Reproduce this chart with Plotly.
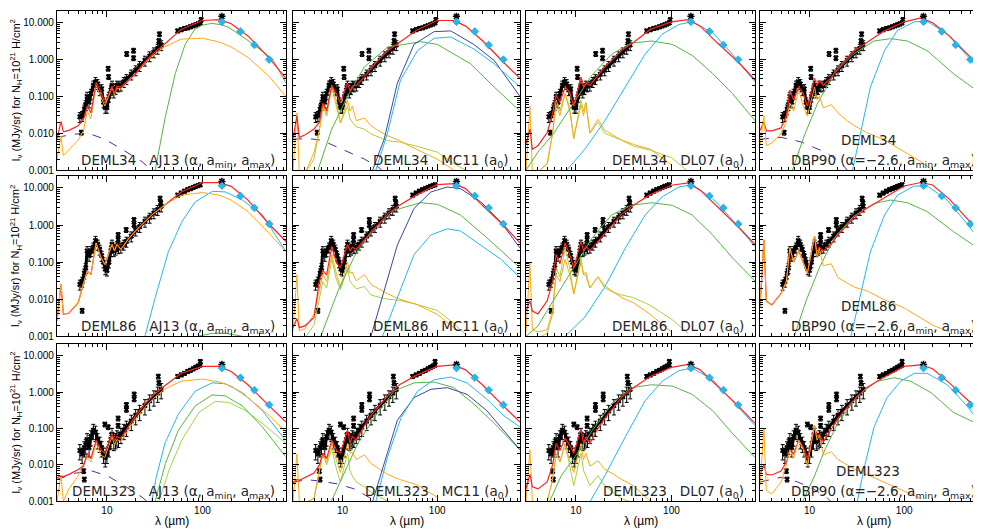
import numpy as np
import plotly.graph_objects as go
from plotly.subplots import make_subplots

# ---- wavelength grids (micron) ----
pah_wl = [3, 3.3, 3.5, 4, 5, 5.7, 6.2, 6.8, 7.7, 8.6, 9.5, 11.3, 12, 12.7, 14, 17, 20, 25, 30, 40, 60, 100, 150, 200, 300, 500, 750]
spec_wl = [5.2, 5.5, 5.8, 6.0, 6.2, 6.5, 6.8, 7.2, 7.6, 8.0, 8.4, 8.8, 9.2, 9.6, 10.0, 10.5, 11.0, 11.3, 11.8, 12.3, 12.7, 13.2, 14, 15, 16, 18, 20, 22, 25, 28, 31, 34, 37]
sed_wl = [55, 60, 65, 70, 75, 80, 85, 90, 95]
phot_wl = [160, 250, 350, 500]
mips_wl = [160]

sources = ["DEML34", "DEML86", "DEML323"]
model_names = ["AJ13 (α, a<sub>min</sub>, a<sub>max</sub>)", "MC11 (a<sub>0</sub>)", "DL07 (a<sub>0</sub>)",
               "DBP90 (α=−2.6, a<sub>min</sub>, a<sub>max</sub>)"]

# ---- observations ----
d34_spec = [0.028, 0.03, 0.045, 0.06, 0.1, 0.07, 0.12, 0.2, 0.25, 0.22, 0.15, 0.16, 0.07, 0.05, 0.05, 0.1, 0.15, 0.2, 0.13, 0.16, 0.2, 0.19, 0.2, 0.25, 0.3, 0.4, 0.52, 0.68, 0.95, 1.25, 1.6, 2.0, 2.5]
d34_sed = [6.0, 6.5, 7.0, 7.3, 7.8, 8.3, 8.8, 9.3, 10]
d34_out_wl = [5.4, 10.3, 10.4, 16.1, 19, 19, 35, 35.5, 97]
d34_out = [0.0105, 0.57, 0.34, 1.43, 1.76, 1.1, 3.2, 4.9, 12]
d34_phot = [10.6, 5.8, 2.5, 1.0]
d34_mips = [15]

d86_spec = [0.025, 0.03, 0.05, 0.07, 0.2, 0.15, 0.2, 0.25, 0.38, 0.3, 0.22, 0.15, 0.1, 0.065, 0.06, 0.1, 0.2, 0.3, 0.2, 0.22, 0.27, 0.24, 0.25, 0.3, 0.36, 0.5, 0.72, 0.9, 1.25, 1.6, 2.1, 2.6, 3.2]
d86_sed = [6.4, 7.3, 8.2, 9.0, 9.6, 10.3, 11, 11.6, 12.2]
d86_out_wl = [5.5, 13.1, 13.1, 15.9, 19.2, 19.2, 36, 36.5]
d86_out = [0.0049, 0.54, 0.4, 0.74, 1.37, 1.0, 5.2, 4.0]
d86_phot = [11.5, 6.1, 2.9, 1.07]
d86_mips = [15]

d323_spec = [0.025, 0.02, 0.03, 0.035, 0.05, 0.03, 0.06, 0.09, 0.08, 0.05, 0.04, 0.03, 0.02, 0.016, 0.02, 0.03, 0.05, 0.07, 0.045, 0.05, 0.06, 0.055, 0.07, 0.09, 0.11, 0.16, 0.23, 0.3, 0.43, 0.58, 0.75, 0.95, 1.19]
d323_sed = [2.7, 3.0, 3.3, 3.7, 4.0, 4.4, 4.8, 5.2, 5.6]
d323_out_wl = [5.7, 5.8, 13.1, 13.1, 16, 16, 19.3, 19.3, 34.5, 35, 9.5, 10.3, 95]
d323_out = [0.0068, 0.004, 0.19, 0.12, 0.45, 0.33, 0.87, 0.64, 2.7, 1.8, 0.13, 0.11, 6.9]
d323_phot = [4.6, 2.5, 1.14, 0.45]
d323_mips = [5.8]

# ---- DEML34 models ----
d34_aj13_red = [0.0069, 0.021, 0.011, 0.012, 0.016, 0.024, 0.054, 0.036, 0.24, 0.14, 0.066, 0.19, 0.12, 0.19, 0.18, 0.28, 0.42, 0.86, 1.4, 2.6, 6.6, 11.5, 12.2, 9.4, 4.4, 1.1, 0.31]
d34_aj13_orange = [0.0018, 0.0085, 0.0025, 0.0035, 0.0065, 0.012, 0.04, 0.025, 0.2, 0.1, 0.055, 0.17, 0.11, 0.17, 0.16, 0.26, 0.4, 0.8, 1.25, 2.2, 3.6, 3.8, 3.0, 2.2, 1.15, 0.35, 0.1]
d34_aj13_green_wl = [32, 41, 52, 66, 83, 100, 125, 160, 190, 300, 540, 750]
d34_aj13_green = [0.001, 0.029, 0.42, 2.6, 6.6, 8.6, 9.6, 8.8, 7.4, 3.3, 1.05, 0.23]
d34_aj13_star_wl = [3, 4.6, 6.4, 9.5, 14.1, 23.3, 29.3]
d34_aj13_star = [0.0078, 0.0095, 0.01, 0.0069, 0.0038, 0.0017, 0.001]

d34_mc11_red = [0.0069, 0.03, 0.0078, 0.009, 0.013, 0.02, 0.066, 0.04, 0.2, 0.12, 0.066, 0.23, 0.14, 0.19, 0.2, 0.34, 0.57, 1.1, 1.75, 2.9, 6.2, 11.5, 11.5, 8.1, 3.3, 0.86, 0.31]
d34_mc11_orange = [0.001, 0.036, 0.0009, 0.0008, 0.003, 0.012, 0.054, 0.03, 0.18, 0.05, 0.019, 0.08, 0.04, 0.054, 0.022, 0.026, 0.016, 0.011, 0.0086, 0.0063, 0.0037, 0.002, 0.001]
d34_mc11_ygreen = [0.0009, 0.0009, 0.0008, 0.0008, 0.002, 0.012, 0.06, 0.03, 0.2, 0.08, 0.019, 0.054, 0.025, 0.02, 0.015, 0.013, 0.0096, 0.0075, 0.0063, 0.0058, 0.0045, 0.0031, 0.0015, 0.001]
d34_mc11_green_wl = [5.5, 7.7, 11.3, 17, 30, 67, 100, 225, 400, 750]
d34_mc11_green = [0.001, 0.013, 0.1, 0.63, 2.2, 3.05, 2.6, 0.77, 0.18, 0.04]
d34_mc11_blue_wl = [20.8, 27.6, 38, 57, 93, 139, 243, 400, 750]
d34_mc11_blue = [0.001, 0.007, 0.23, 2.6, 5.75, 6.0, 2.6, 0.95, 0.1]
d34_mc11_cyan_wl = [22.5, 30, 41, 62, 93, 139, 243, 400, 750]
d34_mc11_cyan = [0.001, 0.0105, 0.28, 1.75, 3.8, 4.1, 1.95, 0.77, 0.18]
d34_mc11_star_wl = [3, 4.3, 6, 10, 17, 24, 26]
d34_mc11_star = [0.0069, 0.0072, 0.0065, 0.0037, 0.002, 0.0012, 0.001]

d34_dl07_red = [0.005, 0.013, 0.0037, 0.0046, 0.0105, 0.034, 0.11, 0.07, 0.18, 0.13, 0.054, 0.34, 0.18, 0.23, 0.2, 0.36, 0.63, 1.1, 1.8, 2.9, 6.6, 10.6, 12.2, 8.1, 2.9, 0.86, 0.28]
d34_dl07_orange = [0.0009, 0.054, 0.0009, 0.0009, 0.0015, 0.01, 0.06, 0.03, 0.12, 0.04, 0.0078, 0.06, 0.03, 0.066, 0.0105, 0.024, 0.012, 0.0085, 0.0066, 0.005, 0.0037, 0.0014]
d34_dl07_ygreen = [0.0009, 0.0009, 0.0009, 0.0009, 0.0015, 0.01, 0.08, 0.04, 0.12, 0.05, 0.007, 0.08, 0.04, 0.07, 0.01, 0.02, 0.01, 0.008, 0.0065, 0.0045, 0.0035, 0.0022, 0.0009]
d34_dl07_green_wl = [3, 4, 5.8, 9, 14.7, 23.6, 38, 62, 102, 165, 270, 435, 750]
d34_dl07_green = [0.001, 0.0031, 0.0096, 0.054, 0.38, 1.4, 2.8, 3.2, 2.6, 1.3, 0.42, 0.12, 0.022]
d34_dl07_cyan_wl = [8, 12.4, 20, 33, 53, 80, 120, 165, 270, 435, 750]
d34_dl07_cyan = [0.001, 0.0037, 0.0215, 0.18, 1.4, 4.9, 9, 10.6, 5.4, 1.4, 0.25]

d34_dbp90_red = [0.012, 0.02, 0.0117, 0.0117, 0.014, 0.03, 0.15, 0.08, 0.18, 0.12, 0.054, 0.31, 0.2, 0.27, 0.2, 0.33, 0.57, 1.1, 1.75, 2.9, 5.75, 10.6, 13.6, 10, 4.4, 1.17, 0.34]
d34_dbp90_orange = [0.0046, 0.03, 0.0046, 0.0055, 0.0096, 0.02, 0.066, 0.04, 0.15, 0.054, 0.029, 0.18, 0.082, 0.1, 0.049, 0.06, 0.036, 0.022, 0.016, 0.0105, 0.0069, 0.0031, 0.0017, 0.001]
d34_dbp90_green_wl = [6.6, 8.8, 12.2, 18.2, 29, 48, 72, 108, 175, 330, 750]
d34_dbp90_green = [0.001, 0.0086, 0.066, 0.42, 1.4, 3.2, 3.7, 3.2, 1.75, 0.42, 0.09]
d34_dbp90_cyan_wl = [28.5, 35, 44, 62, 85, 128, 175, 285, 460, 750]
d34_dbp90_cyan = [0.001, 0.013, 0.18, 1.75, 6.2, 10.6, 11, 4.9, 1.3, 0.28]
d34_dbp90_star_wl = [3, 5, 8.2, 14.5, 21, 25]
d34_dbp90_star = [0.0069, 0.0078, 0.0058, 0.0031, 0.0017, 0.001]

# ---- DEML86 models ----
d86_aj13_red = [0.0026, 0.025, 0.0039, 0.0042, 0.008, 0.025, 0.057, 0.046, 0.33, 0.14, 0.086, 0.3, 0.2, 0.3, 0.22, 0.44, 0.7, 1.23, 1.94, 3.4, 7.8, 14, 13.9, 11, 4.7, 1.05, 0.36]
d86_aj13_orange = [0.0026, 0.025, 0.0039, 0.0042, 0.008, 0.025, 0.057, 0.046, 0.33, 0.14, 0.086, 0.3, 0.2, 0.3, 0.22, 0.44, 0.7, 1.23, 1.94, 3.4, 6.4, 7.5, 6.4, 4.7, 2.3, 0.6, 0.19]
d86_aj13_cyan_wl = [25, 32, 44, 61, 84, 127, 174, 262, 425, 750]
d86_aj13_cyan = [0.001, 0.011, 0.19, 1.23, 4.2, 8.1, 7.8, 4.7, 1.9, 0.19]
d86_aj13_green_wl = [90, 127, 174, 262]
d86_aj13_green = [0.001, 0.0012, 0.0012, 0.001]

d86_mc11_red = [0.0017, 0.003, 0.0017, 0.0019, 0.0032, 0.031, 0.06, 0.045, 0.26, 0.1, 0.07, 0.3, 0.2, 0.25, 0.22, 0.4, 0.6, 1.2, 2.0, 3.4, 6.4, 12.3, 13, 9.6, 3.4, 1.0, 0.33]
d86_mc11_orange = [0.0014, 0.046, 0.0014, 0.0016, 0.004, 0.02, 0.046, 0.03, 0.16, 0.05, 0.021, 0.1, 0.05, 0.054, 0.031, 0.046, 0.025, 0.018, 0.014, 0.01, 0.0073, 0.0039, 0.0017]
d86_mc11_ygreen = [0.0009, 0.0009, 0.0009, 0.0009, 0.002, 0.012, 0.03, 0.02, 0.12, 0.035, 0.018, 0.07, 0.03, 0.026, 0.019, 0.022, 0.013, 0.011, 0.01, 0.0093, 0.0073, 0.005, 0.0022, 0.0011]
d86_mc11_green_wl = [5.9, 9, 13.3, 20, 35, 67, 101, 176, 340, 750]
d86_mc11_green = [0.001, 0.017, 0.14, 0.67, 2.5, 4.0, 3.6, 1.86, 0.44, 0.07]
d86_mc11_blue_wl = [20, 27.7, 38, 57, 86, 128, 176, 290, 470, 750]
d86_mc11_blue = [0.001, 0.017, 0.29, 2.8, 7.8, 10.6, 9.6, 4.2, 1.2, 0.24]
d86_mc11_cyan_wl = [26.5, 38, 57, 86, 128, 176, 290, 470, 750]
d86_mc11_cyan = [0.001, 0.011, 0.16, 0.54, 0.79, 0.69, 0.29, 0.12, 0.038]

d86_dl07_red = [0.0048, 0.009, 0.0048, 0.004, 0.009, 0.03, 0.16, 0.09, 0.33, 0.16, 0.07, 0.36, 0.2, 0.27, 0.2, 0.36, 0.6, 1.1, 1.94, 3.4, 6.6, 11.8, 13.6, 8.7, 3.1, 0.9, 0.3]
d86_dl07_orange = [0.0013, 0.095, 0.0015, 0.0013, 0.0015, 0.005, 0.046, 0.03, 0.12, 0.046, 0.014, 0.1, 0.046, 0.054, 0.02, 0.04, 0.023, 0.015, 0.011, 0.008, 0.0039, 0.0013]
d86_dl07_ygreen = [0.0009, 0.0009, 0.0009, 0.0009, 0.0012, 0.004, 0.07, 0.04, 0.24, 0.07, 0.014, 0.13, 0.046, 0.043, 0.02, 0.04, 0.02, 0.015, 0.013, 0.011, 0.0068, 0.0029, 0.0012]
d86_dl07_green_wl = [3, 4, 5.5, 9, 14.7, 23.6, 38, 62, 102, 165, 270, 435, 750]
d86_dl07_green = [0.001, 0.0019, 0.0073, 0.057, 0.44, 1.86, 3.4, 4.0, 3.4, 1.86, 0.54, 0.13, 0.031]
d86_dl07_cyan_wl = [7.7, 12.4, 20, 33, 53, 80, 120, 165, 270, 435, 750]
d86_dl07_cyan = [0.001, 0.0033, 0.021, 0.24, 1.86, 5.75, 10.6, 12.3, 5.2, 1.37, 0.26]

d86_dbp90_red = [0.006, 0.4, 0.009, 0.007, 0.014, 0.03, 0.24, 0.1, 0.2, 0.1, 0.05, 0.5, 0.18, 0.25, 0.2, 0.3, 0.55, 1.0, 1.7, 2.8, 5.2, 11.3, 14, 12, 5.0, 1.2, 0.36]
d86_dbp90_orange = [0.006, 0.4, 0.009, 0.007, 0.014, 0.03, 0.24, 0.1, 0.2, 0.1, 0.05, 0.5, 0.14, 0.23, 0.08, 0.09, 0.038, 0.027, 0.021, 0.017, 0.01, 0.0058, 0.0031, 0.002, 0.0013]
d86_dbp90_green_wl = [6.9, 9.2, 12.7, 18.2, 29, 48, 72, 108, 175, 330, 750]
d86_dbp90_green = [0.001, 0.009, 0.07, 0.44, 1.7, 3.8, 4.7, 4.0, 2.3, 0.67, 0.16]
d86_dbp90_cyan_wl = [27.4, 35, 44, 62, 85, 128, 175, 285, 460, 750]
d86_dbp90_cyan = [0.001, 0.014, 0.19, 1.86, 6.4, 11.3, 11.3, 4.7, 1.1, 0.21]

# ---- DEML323 models ----
d323_aj13_red = [0.0045, 0.005, 0.0048, 0.0055, 0.0075, 0.0093, 0.021, 0.015, 0.048, 0.026, 0.021, 0.074, 0.045, 0.06, 0.054, 0.12, 0.23, 0.47, 0.79, 1.47, 3.3, 5.1, 5.1, 3.7, 1.6, 0.42, 0.15]
d323_aj13_orange = [0.001, 0.005, 0.001, 0.0022, 0.005, 0.011, 0.016, 0.012, 0.04, 0.019, 0.016, 0.06, 0.035, 0.05, 0.044, 0.1, 0.19, 0.38, 0.64, 1.2, 2.0, 2.3, 1.9, 1.47, 0.7, 0.23, 0.081]
d323_aj13_cyan_wl = [29.5, 33, 40.6, 56, 84, 126, 174, 262, 425, 742]
d323_aj13_cyan = [0.001, 0.0049, 0.04, 0.25, 1.07, 1.8, 1.7, 0.97, 0.31, 0.048]
d323_aj13_green_wl = [32, 41, 56, 84, 126, 174, 262, 425, 742]
d323_aj13_green = [0.001, 0.011, 0.09, 0.42, 0.84, 0.79, 0.42, 0.11, 0.017]
d323_aj13_ygreen_wl = [35, 45, 61, 92, 137, 189, 285, 455, 742]
d323_aj13_ygreen = [0.001, 0.0076, 0.049, 0.28, 0.56, 0.52, 0.31, 0.12, 0.04]
d323_aj13_star_wl = [3, 4.6, 6.9, 10.3, 15.5, 23.3, 26.2]
d323_aj13_star = [0.004, 0.0059, 0.0069, 0.0049, 0.0026, 0.0013, 0.001]

d323_mc11_red = [0.0031, 0.004, 0.0038, 0.0045, 0.006, 0.01, 0.021, 0.015, 0.048, 0.026, 0.021, 0.09, 0.04, 0.06, 0.048, 0.12, 0.23, 0.45, 0.79, 1.6, 2.9, 5.1, 5.6, 4.1, 1.6, 0.42, 0.15]
d323_mc11_orange = [0.001, 0.02, 0.001, 0.0009, 0.0012, 0.006, 0.021, 0.012, 0.039, 0.014, 0.0062, 0.039, 0.021, 0.023, 0.014, 0.019, 0.011, 0.0075, 0.0055, 0.004, 0.0029, 0.0013]
d323_mc11_ygreen = [0.0009, 0.0009, 0.0009, 0.0009, 0.0012, 0.006, 0.02, 0.01, 0.028, 0.008, 0.0034, 0.021, 0.007, 0.005, 0.0034, 0.0025, 0.0018, 0.0013, 0.001]
d323_mc11_green_wl = [7.6, 10.9, 14.6, 21.6, 35, 57, 93, 150, 245, 400, 750]
d323_mc11_green = [0.001, 0.0076, 0.04, 0.2, 1.07, 1.8, 1.9, 1.33, 0.47, 0.14, 0.026]
d323_mc11_blue_wl = [20.8, 27.6, 38, 57, 86, 128, 207, 335, 500, 750]
d323_mc11_blue = [0.001, 0.011, 0.17, 0.71, 1.2, 1.33, 0.87, 0.31, 0.09, 0.026]
d323_mc11_cyan_wl = [22.5, 30, 41.6, 62, 93, 139, 207, 335, 500, 750]
d323_mc11_cyan = [0.001, 0.017, 0.2, 1.07, 2.2, 2.6, 1.8, 0.64, 0.23, 0.11]
d323_mc11_star_wl = [3, 4.3, 5.9, 8.9, 13.3, 20, 21.6]
d323_mc11_star = [0.0034, 0.0039, 0.0036, 0.003, 0.0022, 0.0012, 0.001]

d323_dl07_red = [0.0022, 0.0055, 0.0025, 0.0022, 0.0034, 0.01, 0.039, 0.025, 0.054, 0.035, 0.021, 0.1, 0.039, 0.06, 0.039, 0.1, 0.19, 0.38, 0.71, 1.33, 2.7, 4.8, 5.8, 4.1, 1.47, 0.42, 0.14]
d323_dl07_orange = [0.001, 0.026, 0.001, 0.0009, 0.001, 0.004, 0.021, 0.012, 0.039, 0.013, 0.0062, 0.039, 0.014, 0.021, 0.0093, 0.013, 0.0076, 0.0055, 0.004, 0.0027, 0.001]
d323_dl07_ygreen = [0.0009, 0.0009, 0.0009, 0.0009, 0.001, 0.004, 0.021, 0.012, 0.039, 0.009, 0.0027, 0.021, 0.007, 0.005, 0.0027, 0.0051, 0.0027, 0.0017, 0.0012, 0.0009]
d323_dl07_green_wl = [5.3, 7.0, 9.8, 14.9, 23.6, 38, 62, 102, 165, 270, 435, 750]
d323_dl07_green = [0.001, 0.005, 0.017, 0.09, 0.47, 1.33, 1.6, 1.47, 0.87, 0.31, 0.074, 0.016]
d323_dl07_cyan_wl = [14.1, 20, 33, 53, 80, 120, 165, 270, 435, 750]
d323_dl07_cyan = [0.001, 0.005, 0.06, 0.58, 2.0, 3.9, 4.6, 2.2, 0.58, 0.12]

d323_dbp90_red = [0.0055, 0.01, 0.0055, 0.0053, 0.0068, 0.012, 0.026, 0.02, 0.048, 0.03, 0.015, 0.12, 0.06, 0.07, 0.043, 0.1, 0.19, 0.38, 0.64, 1.33, 2.5, 5.1, 5.6, 4.4, 1.8, 0.52, 0.17]
d323_dbp90_orange = [0.0027, 0.1, 0.002, 0.0016, 0.0034, 0.01, 0.026, 0.015, 0.048, 0.026, 0.0093, 0.12, 0.048, 0.065, 0.019, 0.023, 0.014, 0.01, 0.0076, 0.0055, 0.0034, 0.0019, 0.0012]
d323_dbp90_green_wl = [8.5, 11.3, 14.5, 19.9, 32, 52, 78, 117, 192, 330, 750]
d323_dbp90_green = [0.001, 0.005, 0.026, 0.14, 0.79, 2.0, 2.5, 2.0, 0.97, 0.28, 0.1]
d323_dbp90_cyan_wl = [32, 37.5, 48, 66, 92, 128, 175, 285, 460, 750]
d323_dbp90_cyan = [0.001, 0.0076, 0.11, 0.71, 2.0, 3.3, 3.3, 1.6, 0.42, 0.081]
d323_dbp90_star_wl = [3, 4, 5, 7.5, 11, 15.6, 16.8]
d323_dbp90_star = [0.0034, 0.004, 0.0046, 0.0034, 0.0022, 0.0012, 0.001]

colors = {"red": "#ff2222", "orange": "#ffa812", "ygreen": "#a8d03c", "green": "#55b443",
          "cyan": "#22b8ee", "blue": "#3a46a6", "star": "#4a2c9a"}

obs = [
    (d34_spec, d34_sed, d34_out_wl, d34_out, d34_phot, d34_mips, 30),
    (d86_spec, d86_sed, d86_out_wl, d86_out, d86_phot, d86_mips, 30),
    (d323_spec, d323_sed, d323_out_wl, d323_out, d323_phot, d323_mips, 45),
]

panels = [
    [
        [("star", d34_aj13_star_wl, d34_aj13_star), ("green", d34_aj13_green_wl, d34_aj13_green),
         ("orange", pah_wl, d34_aj13_orange), ("red", pah_wl, d34_aj13_red)],
        [("star", d34_mc11_star_wl, d34_mc11_star), ("ygreen", pah_wl, d34_mc11_ygreen),
         ("orange", pah_wl, d34_mc11_orange), ("green", d34_mc11_green_wl, d34_mc11_green),
         ("blue", d34_mc11_blue_wl, d34_mc11_blue), ("cyan", d34_mc11_cyan_wl, d34_mc11_cyan),
         ("red", pah_wl, d34_mc11_red)],
        [("ygreen", pah_wl, d34_dl07_ygreen), ("orange", pah_wl, d34_dl07_orange),
         ("green", d34_dl07_green_wl, d34_dl07_green), ("cyan", d34_dl07_cyan_wl, d34_dl07_cyan),
         ("red", pah_wl, d34_dl07_red)],
        [("star", d34_dbp90_star_wl, d34_dbp90_star), ("green", d34_dbp90_green_wl, d34_dbp90_green),
         ("cyan", d34_dbp90_cyan_wl, d34_dbp90_cyan), ("red", pah_wl, d34_dbp90_red),
         ("orange", pah_wl, d34_dbp90_orange)],
    ],
    [
        [("green", d86_aj13_green_wl, d86_aj13_green), ("cyan", d86_aj13_cyan_wl, d86_aj13_cyan),
         ("red", pah_wl, d86_aj13_red), ("orange", pah_wl, d86_aj13_orange)],
        [("ygreen", pah_wl, d86_mc11_ygreen), ("orange", pah_wl, d86_mc11_orange),
         ("green", d86_mc11_green_wl, d86_mc11_green), ("blue", d86_mc11_blue_wl, d86_mc11_blue),
         ("cyan", d86_mc11_cyan_wl, d86_mc11_cyan), ("red", pah_wl, d86_mc11_red)],
        [("ygreen", pah_wl, d86_dl07_ygreen), ("orange", pah_wl, d86_dl07_orange),
         ("green", d86_dl07_green_wl, d86_dl07_green), ("cyan", d86_dl07_cyan_wl, d86_dl07_cyan),
         ("red", pah_wl, d86_dl07_red)],
        [("green", d86_dbp90_green_wl, d86_dbp90_green), ("cyan", d86_dbp90_cyan_wl, d86_dbp90_cyan),
         ("red", pah_wl, d86_dbp90_red), ("orange", pah_wl, d86_dbp90_orange)],
    ],
    [
        [("star", d323_aj13_star_wl, d323_aj13_star), ("ygreen", d323_aj13_ygreen_wl, d323_aj13_ygreen),
         ("green", d323_aj13_green_wl, d323_aj13_green), ("cyan", d323_aj13_cyan_wl, d323_aj13_cyan),
         ("orange", pah_wl, d323_aj13_orange), ("red", pah_wl, d323_aj13_red)],
        [("star", d323_mc11_star_wl, d323_mc11_star), ("ygreen", pah_wl, d323_mc11_ygreen),
         ("orange", pah_wl, d323_mc11_orange), ("green", d323_mc11_green_wl, d323_mc11_green),
         ("blue", d323_mc11_blue_wl, d323_mc11_blue), ("cyan", d323_mc11_cyan_wl, d323_mc11_cyan),
         ("red", pah_wl, d323_mc11_red)],
        [("ygreen", pah_wl, d323_dl07_ygreen), ("orange", pah_wl, d323_dl07_orange),
         ("green", d323_dl07_green_wl, d323_dl07_green), ("cyan", d323_dl07_cyan_wl, d323_dl07_cyan),
         ("red", pah_wl, d323_dl07_red)],
        [("star", d323_dbp90_star_wl, d323_dbp90_star), ("green", d323_dbp90_green_wl, d323_dbp90_green),
         ("cyan", d323_dbp90_cyan_wl, d323_dbp90_cyan), ("red", pah_wl, d323_dbp90_red),
         ("orange", pah_wl, d323_dbp90_orange)],
    ],
]

W, H = 981, 529
col_px = [(49, 278), (285, 512), (518, 747), (752, 979)]
row_px = [(3, 164), (170, 332), (340, 499)]

fig = make_subplots(rows=3, cols=4)
FONT = "Liberation Sans"
LABEL_FONT = dict(family="DejaVu Sans", size=13.5, color="#262626")

for r in range(3):
    spec, sed, out_wl, out, phot, mips, err = obs[r]
    for c in range(4):
        # observations (black)
        fig.add_trace(go.Scatter(x=spec_wl, y=spec, mode="lines+markers",
                                 line=dict(color="black", width=3),
                                 marker=dict(symbol="x", size=5, color="black"),
                                 error_y=dict(type="percent", value=err, color="black", thickness=1, width=2)),
                      row=r + 1, col=c + 1)
        fig.add_trace(go.Scatter(x=sed_wl, y=sed, mode="lines+markers",
                                 line=dict(color="black", width=3),
                                 marker=dict(symbol="x", size=5, color="black"),
                                 error_y=dict(type="percent", value=12, color="black", thickness=1, width=2)),
                      row=r + 1, col=c + 1)
        fig.add_trace(go.Scatter(x=out_wl, y=out, mode="markers",
                                 marker=dict(symbol="x", size=5, color="black"),
                                 error_y=dict(type="percent", value=15, color="black", thickness=1, width=2)),
                      row=r + 1, col=c + 1)
        # model components
        for comp, wl, vals in panels[r][c]:
            n = min(len(wl), len(vals))
            fig.add_trace(go.Scatter(x=wl[:n], y=vals[:n], mode="lines",
                                     line=dict(color=colors[comp], width=1.2 if comp == "red" else 1,
                                               dash="dash" if comp == "star" else "solid")),
                          row=r + 1, col=c + 1)
        # photometry
        fig.add_trace(go.Scatter(x=mips_wl, y=mips, mode="markers",
                                 marker=dict(symbol="asterisk-open", size=6, color="black",
                                             line=dict(color="black", width=1.5))),
                      row=r + 1, col=c + 1)
        fig.add_trace(go.Scatter(x=phot_wl, y=phot, mode="markers",
                                 marker=dict(symbol="diamond", size=6, color="#22b8ee",
                                             line=dict(color="#1488c0", width=0.5))),
                      row=r + 1, col=c + 1)

        x0, x1 = col_px[c]
        y0, y1 = row_px[r]
        fig.update_xaxes(domain=[x0 / W, x1 / W], type="log", range=[np.log10(3), np.log10(750)],
                         showline=True, linecolor="black", linewidth=1.3, mirror="allticks",
                         ticks="inside", ticklen=6, tickcolor="black", tickmode="linear", tick0=0, dtick=1,
                         tickformat=".0f", showgrid=False, zeroline=False,
                         minor=dict(ticks="inside", ticklen=3, tickcolor="black", dtick="D1", showgrid=False),
                         showticklabels=(r == 2), tickfont=dict(family=FONT, size=10, color="black"),
                         row=r + 1, col=c + 1)
        fig.update_yaxes(domain=[1 - y1 / H, 1 - y0 / H], type="log", range=[-3, 1.32],
                         showline=True, linecolor="black", linewidth=1.3, mirror="allticks",
                         ticks="inside", ticklen=6, tickcolor="black", tickmode="linear", tick0=0, dtick=1,
                         tickformat=".3f", showgrid=False, zeroline=False,
                         minor=dict(ticks="inside", ticklen=3, tickcolor="black", dtick="D1", showgrid=False),
                         showticklabels=(c == 0), tickfont=dict(family=FONT, size=10, color="black"),
                         row=r + 1, col=c + 1)

        # panel labels
        if c < 3:
            fig.add_annotation(text=sources[r] + "\u00a0\u00a0\u00a0" + model_names[c],
                               x=x1 / W, y=1 - y1 / H, xref="paper", yref="paper",
                               xanchor="right", yanchor="bottom", xshift=-9, yshift=-2, showarrow=False,
                               font=LABEL_FONT)
        else:
            fig.add_annotation(text=model_names[c],
                               x=x1 / W, y=1 - y1 / H, xref="paper", yref="paper",
                               xanchor="right", yanchor="bottom", xshift=-9, yshift=-2, showarrow=False,
                               font=LABEL_FONT)
            fig.add_annotation(text=sources[r],
                               x=(x0 + 108) / W, y=1 - y1 / H, xref="paper", yref="paper",
                               xanchor="center", yanchor="middle", yshift=30, showarrow=False,
                               font=LABEL_FONT)

    # y-axis title for the row
    fig.add_annotation(text="I<sub>ν</sub> (MJy/sr) for N<sub>H</sub>=10<sup>21</sup> H/cm<sup>2</sup>",
                       x=8 / W, y=1 - (row_px[r][0] + row_px[r][1]) / 2 / H, xref="paper", yref="paper",
                       textangle=-90, showarrow=False, xanchor="center", yanchor="middle",
                       font=dict(family=FONT, size=11, color="black"))

for c in range(4):
    x0, x1 = col_px[c]
    fig.add_annotation(text="λ (µm)", x=(x0 + x1) / 2 / W, y=1 - 519 / H, xref="paper", yref="paper",
                       showarrow=False, xanchor="center", yanchor="middle",
                       font=dict(family=FONT, size=12, color="black"))

fig.update_layout(width=W, height=H, margin=dict(l=0, r=0, t=0, b=0),
                  paper_bgcolor="white", plot_bgcolor="white", showlegend=False)

fig.write_html("out.html")
